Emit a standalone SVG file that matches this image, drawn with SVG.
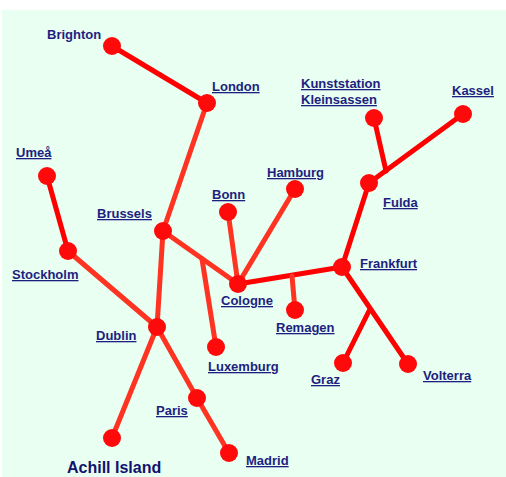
<svg xmlns="http://www.w3.org/2000/svg" width="506" height="477" viewBox="0 0 506 477">
<style>
.e{stroke-width:5;stroke-linecap:round;fill:none}
.r{stroke:#ff0000}
.o{stroke:#ff3322}
.n{fill:#ff0a0a}
.t{font-family:"Liberation Sans",Arial,sans-serif;font-weight:bold;font-size:13px;fill:#1e1e80;text-decoration:underline}
.p{text-decoration:none}
</style>
<rect x="2" y="10" width="504" height="467" fill="#e8fff2"/>
<g id="connectors">
<line class="e r" x1="112" y1="46" x2="207" y2="103"/>
<line class="e o" x1="207" y1="103" x2="163" y2="231"/>
<line class="e r" x1="47" y1="176" x2="68" y2="251"/>
<line class="e o" x1="68" y1="251" x2="157" y2="327"/>
<line class="e o" x1="163" y1="231" x2="157" y2="327"/>
<line class="e o" x1="163" y1="231" x2="238" y2="284"/>
<line class="e o" x1="202" y1="259" x2="216" y2="347"/>
<line class="e o" x1="228" y1="212" x2="238" y2="284"/>
<line class="e o" x1="295" y1="189" x2="238" y2="284"/>
<line class="e r" x1="238" y1="284" x2="342" y2="267"/>
<line class="e o" x1="292" y1="276" x2="295" y2="310"/>
<line class="e r" x1="342" y1="267" x2="369" y2="183"/>
<line class="e r" x1="369" y1="183" x2="463" y2="114"/>
<line class="e r" x1="386" y1="171" x2="374" y2="118"/>
<line class="e r" x1="342" y1="267" x2="408" y2="364"/>
<line class="e r" x1="369" y1="311" x2="343" y2="363"/>
<line class="e o" x1="157" y1="327" x2="112" y2="438"/>
<line class="e o" x1="157" y1="327" x2="197" y2="398"/>
<line class="e o" x1="197" y1="398" x2="229" y2="453"/>
</g>
<g id="brighton"><circle class="n" cx="112" cy="46" r="9"/><text class="t p" x="47" y="39">Brighton</text></g>
<g id="london"><circle class="n" cx="207" cy="103" r="9"/><text class="t" x="212" y="91">London</text></g>
<g id="umea"><circle class="n" cx="47" cy="176" r="9"/><text class="t" x="16" y="157">Umeå</text></g>
<g id="stockholm"><circle class="n" cx="68" cy="251" r="9"/><text class="t" x="12" y="279">Stockholm</text></g>
<g id="brussels"><circle class="n" cx="163" cy="231" r="9"/><text class="t" x="97" y="218">Brussels</text></g>
<g id="bonn"><circle class="n" cx="228" cy="212" r="9"/><text class="t" x="212" y="199">Bonn</text></g>
<g id="hamburg"><circle class="n" cx="295" cy="189" r="9"/><text class="t" x="267" y="177">Hamburg</text></g>
<g id="kunststation"><circle class="n" cx="374" cy="118" r="9"/><text class="t" x="301" y="88">Kunststation</text><text class="t" x="301" y="104">Kleinsassen</text></g>
<g id="kassel"><circle class="n" cx="463" cy="114" r="9"/><text class="t" x="452" y="95">Kassel</text></g>
<g id="fulda"><circle class="n" cx="369" cy="183" r="9"/><text class="t" x="383" y="207">Fulda</text></g>
<g id="frankfurt"><circle class="n" cx="342" cy="267" r="9"/><text class="t" x="360" y="268">Frankfurt</text></g>
<g id="cologne"><circle class="n" cx="238" cy="284" r="9"/><text class="t" x="221" y="305">Cologne</text></g>
<g id="remagen"><circle class="n" cx="295" cy="310" r="9"/><text class="t" x="276" y="332">Remagen</text></g>
<g id="luxemburg"><circle class="n" cx="216" cy="347" r="9"/><text class="t" x="208" y="371">Luxemburg</text></g>
<g id="dublin"><circle class="n" cx="157" cy="327" r="9"/><text class="t" x="96" y="340">Dublin</text></g>
<g id="graz"><circle class="n" cx="343" cy="363" r="9"/><text class="t" x="311" y="384">Graz</text></g>
<g id="volterra"><circle class="n" cx="408" cy="364" r="9"/><text class="t" x="423" y="380">Volterra</text></g>
<g id="paris"><circle class="n" cx="197" cy="398" r="9"/><text class="t" x="156" y="415">Paris</text></g>
<g id="madrid"><circle class="n" cx="229" cy="453" r="9"/><text class="t" x="246" y="465">Madrid</text></g>
<g id="achill"><circle class="n" cx="112" cy="438" r="9"/><text class="t p" x="67" y="473" style="font-size:16px;fill:#12126e">Achill Island</text></g>
</svg>
